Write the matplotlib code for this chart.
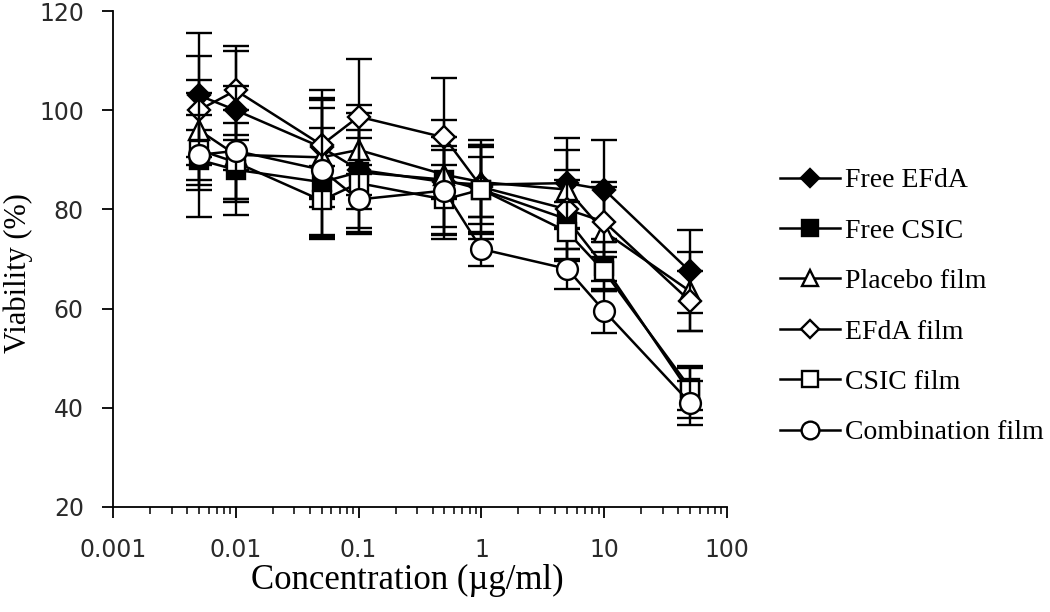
import matplotlib.pyplot as plt
import numpy as np

conc = [0.005, 0.01, 0.05, 0.1, 0.5, 1, 5, 10, 50]

free_efda = [103, 100, 92.5, 88, 85.5, 85, 85.3, 84, 67.5]
free_efda_err = [12.5, 12, 10, 8, 9, 8, 9, 10, 8.3]
free_csic = [90, 88, 85.5, 87.5, 86, 84, 78, 68.5, 43]
free_csic_err = [6, 6, 11, 12, 12, 10, 8, 5, 5]
placebo = [96, 91, 90.5, 92, 87, 85.5, 84, 75.5, 63.5]
placebo_err = [10, 9, 10, 9, 5, 7, 8, 10, 8]
efda_film = [100, 104, 93, 98.7, 94.5, 84.5, 80, 77.5, 61.5]
efda_film_err = [11, 9, 11, 11.6, 12, 6, 8, 7, 6]
csic_film = [92, 89.5, 81.8, 85.3, 82, 84, 75.5, 67.5, 44]
csic_film_err = [7, 8, 7, 9, 7, 9, 6, 4, 4.5]
comb_film = [91, 91.8, 88, 82, 83.8, 72, 68, 59.5, 41]
comb_film_err = [12.5, 13, 14, 7, 9, 3.5, 4, 4.5, 4.5]

labels = ["Free EFdA", "Free CSIC", "Placebo film", "EFdA film", "CSIC film", "Combination film"]
series = [free_efda, free_csic, placebo, efda_film, csic_film, comb_film]
errors = [free_efda_err, free_csic_err, placebo_err, efda_film_err, csic_film_err, comb_film_err]
markers = ["D", "s", "^", "D", "s", "o"]
faces = ["black", "black", "white", "white", "white", "white"]
msizes = [11, 13, 14, 11, 13, 15]

fig = plt.figure(figsize=(10.5, 6.12), dpi=100)
ax = fig.add_axes([0.1076, 0.1716, 0.5848, 0.8104])

for i, (y, e) in enumerate(zip(series, errors)):
    ax.errorbar(conc, y, yerr=e, color="black", lw=1.8, marker=markers[i],
                markersize=msizes[i], markerfacecolor=faces[i], markeredgecolor="black",
                markeredgewidth=1.7, ecolor="black", elinewidth=1.7, capsize=9.5,
                capthick=1.7, label=labels[i], zorder=3 + i)

ax.set_xscale("log")
ax.set_xlim(0.001, 100)
ax.set_ylim(20, 120)
ax.set_yticks([20, 40, 60, 80, 100, 120])
ax.set_xticks([0.001, 0.01, 0.1, 1, 10, 100])
ax.set_xticklabels(["0.001", "0.01", "0.1", "1", "10", "100"])
ax.spines["top"].set_visible(False)
ax.spines["right"].set_visible(False)
for s in ["left", "bottom"]:
    ax.spines[s].set_linewidth(1.3)
ax.tick_params(axis="both", which="major", direction="out", length=8, width=1.3,
               labelsize=17, labelcolor="#2a2a2a")
ax.tick_params(axis="y", which="major", pad=13)
ax.tick_params(axis="x", which="major", pad=14)
ax.tick_params(axis="x", which="minor", direction="out", length=5, width=1.1)
for t in ax.get_xticklabels() + ax.get_yticklabels():
    t.set_fontfamily("DejaVu Sans")

ax.set_xlabel("Concentration (µg/ml)", fontfamily="Liberation Serif", fontsize=25)
ax.set_ylabel("Viability (%)", fontfamily="Liberation Serif", fontsize=22)
ax.xaxis.set_label_coords(0.479, -0.115)
ax.yaxis.set_label_coords(-0.13, 0.472)

handles, labs = ax.get_legend_handles_labels()
handles = [h[0] for h in handles]
leg = fig.legend(handles, labs, loc="center left", bbox_to_anchor=(0.719, 0.499),
                 frameon=False, prop={"family": "Liberation Serif", "size": 20},
                 handlelength=2.15, handletextpad=0.18, labelspacing=0.9, markerscale=0.85)

fig.savefig("out.png", dpi=100)
